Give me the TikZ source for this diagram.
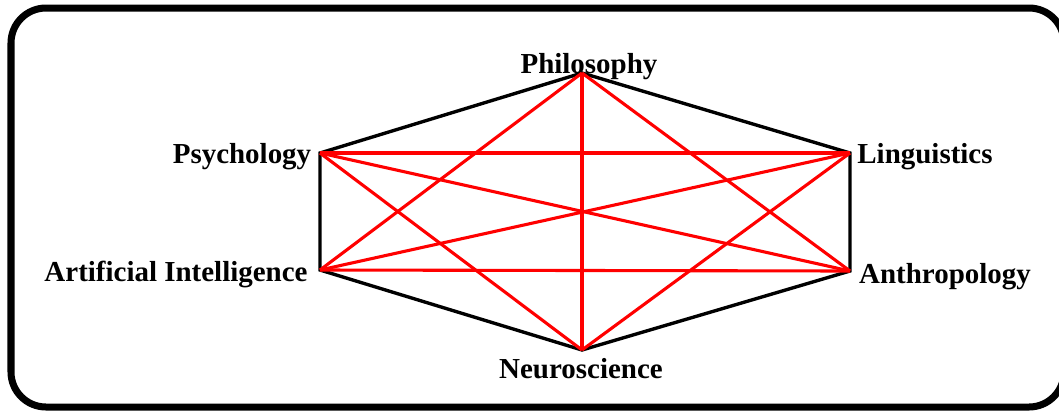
\documentclass[tikz,border=0pt]{standalone}
\usepackage{fontspec}
\setmainfont{Liberation Serif}
\usepackage{xcolor}
\definecolor{linkred}{HTML}{FF0000}
\tikzset{
  frame/.style={draw=black, line width=0.175cm, rounded corners=0.875cm},
  rim/.style={draw=black, line width=2.4pt, line join=miter},
  link/.style={draw=linkred, line width=2.2pt},
  field/.style={font=\fontsize{20.6}{24}\selectfont\bfseries, inner sep=0pt, anchor=base},
}
\begin{document}
\begin{tikzpicture}[x=0.025cm, y=-0.025cm]
  \useasboundingbox (0,0) rectangle (1059,410);

  %% outer frame (runs past the right edge)
  \draw[frame] (11,8) rectangle (1064,407);

  %% corners of the hexagon
  \coordinate (phil) at (582,73);
  \coordinate (ling) at (850,153);
  \coordinate (anth) at (850,271);
  \coordinate (neur) at (582,350);
  \coordinate (ai)   at (320,270);
  \coordinate (psy)  at (320,153);

  %% labels
  \node[field] (lphil) at (589,73)  {Philosophy};
  \node[field] (lpsy)  at (242,163) {Psychology};
  \node[field] (lling) at (925,163) {Linguistics};
  \node[field] (lai)   at (176,281) {Artificial Intelligence};
  \node[field] (lanth) at (945,283) {Anthropology};
  \node[field] (lneur) at (581,378) {Neuroscience};

  %% hexagon rim
  \draw[rim] (phil) -- (ling) -- (anth) -- (neur) -- (ai) -- (psy) -- cycle;

  %% every diagonal
  \foreach \a/\b in {phil/anth, phil/neur, phil/ai,
                     ling/neur, ling/ai, ling/psy,
                     anth/ai, anth/psy, neur/psy}{
    \draw[link] (\a) -- (\b);
  }
\end{tikzpicture}
\end{document}
